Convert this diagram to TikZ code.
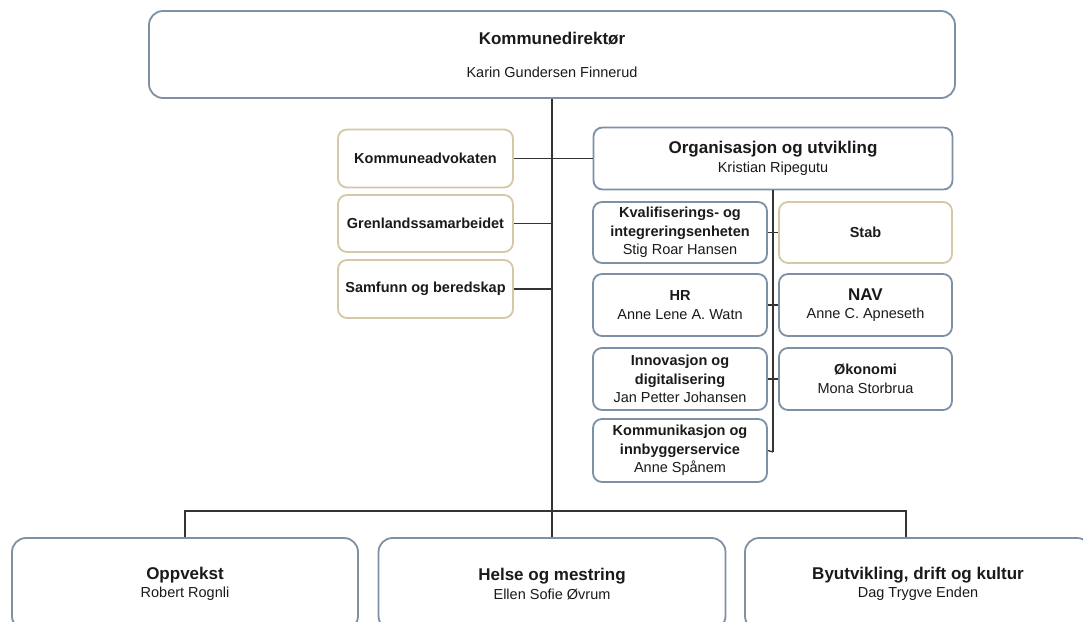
\documentclass[tikz,border=0pt]{standalone}
\usepackage{fontspec}
\setmainfont{Liberation Sans}
\definecolor{boxblue}{HTML}{7D90A4}
\definecolor{boxtan}{HTML}{D6C7A6}
\definecolor{txt}{HTML}{1A1A1A}
\definecolor{conn}{HTML}{333333}
\newcommand\mytitle{\fontsize{17}{19}\selectfont\bfseries}
\newcommand\mybig{\fontsize{17}{33}\selectfont\bfseries}
\newcommand\mybigsub{\fontsize{14.5}{33}\selectfont\mdseries}
\newcommand\mybold{\fontsize{14.5}{18.5}\selectfont\bfseries}
\newcommand\myreg{\fontsize{14.5}{18.5}\selectfont\mdseries}
\begin{document}
\begin{tikzpicture}[x=1pt,y=-1pt,
  bbox/.style={draw=boxblue, line width=1.8pt, rounded corners=9pt, fill=white,
    align=center, inner sep=0pt, text=txt, font=\myreg},
  tbox/.style={bbox, draw=boxtan},
  bigbox/.style={bbox, rounded corners=14pt},
  link/.style={draw=conn, line width=1.3pt}]
\clip (0,0) rectangle (1083,621);
\fill[white] (0,0) rectangle (1083,621);
% top
\node[bigbox, font=\mybigsub, minimum width=806, minimum height=87] (dir) at (552,54.5)
  {\mybig Kommunedirektør\\\mybigsub Karin Gundersen Finnerud};
% left staff
\node[tbox, minimum width=175, minimum height=58] (adv) at (425.5,158.5) {\mybold Kommuneadvokaten};
\node[tbox, minimum width=175, minimum height=57] (gren) at (425.5,223.5) {\mybold Grenlandssamarbeidet};
\node[tbox, minimum width=175, minimum height=58] (samf) at (425.5,289) {\mybold Samfunn og beredskap};
% organisation
\node[bbox, minimum width=359, minimum height=62] (org) at (773,158.5)
  {\mytitle Organisasjon og utvikling\\\myreg Kristian Ripegutu};
\node[bbox, minimum width=174, minimum height=61] (kval) at (680,232.5)
  {\mybold Kvalifiserings- og\\\mybold integreringsenheten\\\myreg Stig Roar Hansen};
\node[tbox, minimum width=173, minimum height=61] (stab) at (865.5,232.5) {\mybold Stab};
\node[bbox, minimum width=174, minimum height=62] (hr) at (680,305)
  {\mybold HR\\\myreg Anne Lene A. Watn};
\node[bbox, minimum width=173, minimum height=62] (nav) at (865.5,305)
  {\mytitle NAV\\\myreg Anne C. Apneseth};
\node[bbox, minimum width=174, minimum height=62] (innov) at (680,379)
  {\mybold Innovasjon og\\\mybold digitalisering\\\myreg Jan Petter Johansen};
\node[bbox, minimum width=173, minimum height=62] (okon) at (865.5,379)
  {\mybold Økonomi\\\myreg Mona Storbrua};
\node[bbox, minimum width=174, minimum height=63] (komm) at (680,450.5)
  {\mybold Kommunikasjon og\\\mybold innbyggerservice\\\myreg Anne Spånem};
% bottom
\node[bigbox, minimum width=346, minimum height=92] (opp) at (185,584)
  {\mytitle Oppvekst\\\myreg Robert Rognli};
\node[bigbox, minimum width=347, minimum height=92] (helse) at (552,584)
  {\mytitle Helse og mestring\\\myreg Ellen Sofie Øvrum};
\node[bigbox, minimum width=346, minimum height=92] (byutv) at (918,584)
  {\mytitle Byutvikling, drift og kultur\\\myreg Dag Trygve Enden};
% connectors
\coordinate (busL) at (185,511);
\coordinate (busR) at (906,511);
\coordinate (orgend) at (773,452);
\draw[link] (dir.south) -- (helse.north);
\draw[link] (opp.north) -- (busL) -- (busR) -- (busR |- byutv.north);
\draw[link] (adv.east) -- (org.west);
\draw[link] (gren.east) -- (gren.east -| dir.south);
\draw[link] (samf.east) -- (samf.east -| dir.south);
\draw[link] (org.south) -- (orgend);
\draw[link] (kval.east) -- (stab.west);
\draw[link] (hr.east) -- (nav.west);
\draw[link] (innov.east) -- (okon.west);
\draw[link] (komm.east) -- (orgend);
\end{tikzpicture}
\end{document}
